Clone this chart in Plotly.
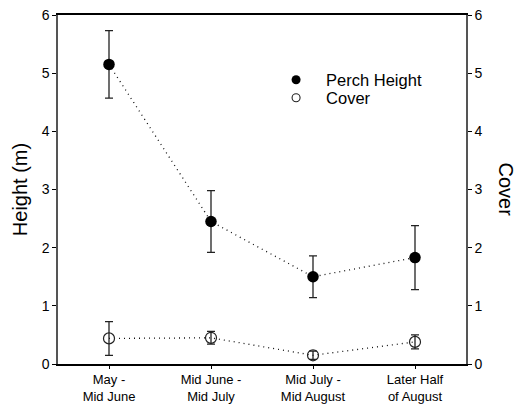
import plotly.graph_objects as go

categories = ["May -<br>Mid June", "Mid June -<br>Mid July", "Mid July -<br>Mid August", "Later Half<br>of August"]
perch_height = [5.15, 2.45, 1.50, 1.83]
perch_err = [0.58, 0.53, 0.36, 0.55]
cover = [0.44, 0.45, 0.15, 0.38]
cover_err = [0.29, 0.11, 0.07, 0.12]
y_ticks = [0, 1, 2, 3, 4, 5, 6]

x = list(range(len(categories)))
font = "Liberation Sans, Arial, sans-serif"
dot = "1px,4px"

fig = go.Figure()
# dotted connecting lines
fig.add_trace(go.Scatter(x=x, y=perch_height, mode="lines", showlegend=False,
                         line=dict(color="#111", width=1.3, dash=dot), hoverinfo="skip"))
fig.add_trace(go.Scatter(x=x, y=cover, mode="lines", showlegend=False,
                         line=dict(color="#111", width=1.3, dash=dot), hoverinfo="skip"))
# markers with error bars
fig.add_trace(go.Scatter(x=x, y=perch_height, mode="markers", name="Perch Height", showlegend=False,
                         marker=dict(symbol="circle", size=11.5, color="black"),
                         error_y=dict(type="data", array=perch_err, color="#222", thickness=1.3, width=4)))
fig.add_trace(go.Scatter(x=x, y=cover, mode="markers", name="Cover", showlegend=False,
                         marker=dict(symbol="circle-open", size=11, color="#222", line=dict(width=1.2)),
                         error_y=dict(type="data", array=cover_err, color="#222", thickness=1.3, width=4)))
# legend entries
fig.add_trace(go.Scatter(x=[None], y=[None], mode="markers", name="Perch Height", legend="legend",
                         marker=dict(symbol="circle", size=9, color="black")))
fig.add_trace(go.Scatter(x=[None], y=[None], mode="markers", name="Cover", legend="legend2",
                         marker=dict(symbol="circle-open", size=8, color="#222", line=dict(width=1.1))))
# dummy trace for right axis
fig.add_trace(go.Scatter(x=[None], y=[None], yaxis="y2", showlegend=False, hoverinfo="skip"))

leg_common = dict(x=0.51, xanchor="left", yanchor="middle", bgcolor="rgba(0,0,0,0)",
                  font=dict(size=16.5), itemwidth=50)

fig.update_layout(
    width=516, height=404,
    margin=dict(l=58, r=50, t=15, b=40),
    paper_bgcolor="white", plot_bgcolor="white",
    font=dict(family=font, size=13, color="black"),
    showlegend=True,
    legend=dict(y=0.8138, **leg_common),
    legend2=dict(y=0.7622, **leg_common),
    xaxis=dict(range=[-0.5, 3.5], tickmode="array", tickvals=x, ticktext=categories,
               showgrid=False, zeroline=False, showline=True, linecolor="black", linewidth=1.5,
               mirror=True, ticks="outside", ticklen=3, tickcolor="black", automargin=False,
               tickfont=dict(size=13)),
    yaxis=dict(range=[0, 6], tickvals=y_ticks, showgrid=False, zeroline=False,
               showline=True, linecolor="#555", linewidth=1.5, ticks="outside", ticklen=4,
               tickcolor="black", automargin=False, tickfont=dict(size=14),
               title=dict(text="Height (m)", font=dict(size=20), standoff=9)),
    yaxis2=dict(range=[0, 6], tickvals=y_ticks, overlaying="y", side="right", showgrid=False,
                zeroline=False, showline=True, linecolor="#555", linewidth=1.5, ticks="outside",
                ticklen=4, tickcolor="black", automargin=False, tickfont=dict(size=14)),
    annotations=[dict(text="Cover", xref="paper", yref="paper", x=1.0, y=0.5, xshift=53,
                      textangle=90, showarrow=False, font=dict(size=20))],
)

fig.write_html("out.html", config={"displayModeBar": False},
               post_script="document.body.style.margin='0';document.body.style.overflow='hidden';")
